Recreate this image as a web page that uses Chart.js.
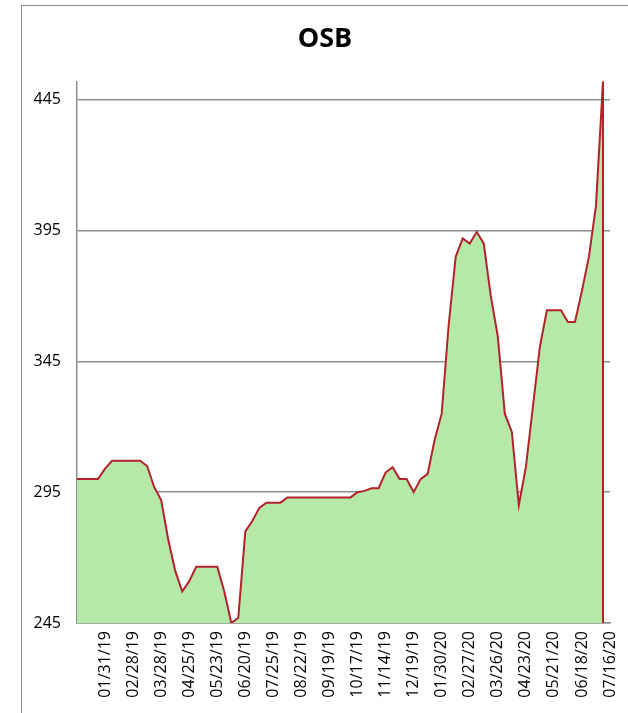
<!DOCTYPE html>
<html>
<head>
<meta charset="utf-8">
<title>OSB</title>
<script src="https://cdn.jsdelivr.net/npm/chart.js@4.4.1/dist/chart.umd.min.js"></script>
<style>
    html, body { margin: 0; padding: 0; background: #fff; overflow: hidden; }
    #frame {
        position: absolute;
        left: 21px;
        top: 5px;
        width: 606px;
        height: 712px;
        border: 1px solid #8c8c8c;
    }
</style>
</head>
<body>
<div id="frame"><canvas id="osbChart"></canvas></div>
<script>
// weekly dates (some holiday weeks are missing in the source)
const dates = [
    "01/03/19", "01/10/19", "01/17/19", "01/24/19", "01/31/19", "02/07/19", "02/14/19", "02/21/19",
    "02/28/19", "03/07/19", "03/14/19", "03/21/19", "03/28/19", "04/04/19", "04/11/19", "04/18/19",
    "04/25/19", "05/02/19", "05/09/19", "05/16/19", "05/23/19", "05/30/19", "06/06/19", "06/13/19",
    "06/20/19", "06/27/19", "07/11/19", "07/18/19", "07/25/19", "08/01/19", "08/08/19", "08/15/19",
    "08/22/19", "08/29/19", "09/05/19", "09/12/19", "09/19/19", "09/26/19", "10/03/19", "10/10/19",
    "10/17/19", "10/24/19", "10/31/19", "11/07/19", "11/14/19", "11/21/19", "12/05/19", "12/12/19",
    "12/19/19", "01/09/20", "01/16/20", "01/23/20", "01/30/20", "02/06/20", "02/13/20", "02/20/20",
    "02/27/20", "03/05/20", "03/12/20", "03/19/20", "03/26/20", "04/02/20", "04/09/20", "04/16/20",
    "04/23/20", "04/30/20", "05/07/20", "05/14/20", "05/21/20", "05/28/20", "06/04/20", "06/11/20",
    "06/18/20", "06/25/20", "07/02/20", "07/09/20", "07/16/20"
];

const osbPrices = [
    300, 300, 300, 300, 304, 307, 307, 307,
    307, 307, 305, 297, 292, 277, 265, 257,
    261, 266.5, 266.5, 266.5, 266.5, 257, 245, 247,
    280, 284, 289, 291, 291, 291, 293, 293,
    293, 293, 293, 293, 293, 293, 293, 293,
    295, 295.5, 296.5, 296.5, 302.5, 304.5, 300, 300,
    295, 300, 302, 315, 325, 359, 385, 392,
    390, 394.5, 390, 370, 354.5, 325, 318, 290,
    304.5, 327.5, 350.5, 364.5, 364.5, 364.5, 360, 360,
    372, 385, 404.5, 452, null
];

const yTicks = [245, 295, 345, 395, 445];
const labelEvery = 4;

const gridGray = '#8e8e8e';
const lineRed = '#b3222b';
const areaGreen = '#b6e9a9';
const fontFamily = "'Open Sans', 'Liberation Sans', sans-serif";

// Excel closes the area with a vertical edge where the data stops
const closeAreaEdge = {
    id: 'closeAreaEdge',
    afterDatasetsDraw(chart) {
        const data = chart.data.datasets[0].data;
        let last = data.length - 1;
        while (last > 0 && data[last] == null) last--;
        const pt = chart.getDatasetMeta(0).data[last];
        const ctx = chart.ctx;
        const area = chart.chartArea;
        ctx.save();
        ctx.strokeStyle = lineRed;
        ctx.lineWidth = 2;
        ctx.beginPath();
        ctx.moveTo(pt.x, Math.max(pt.y, area.top));
        ctx.lineTo(pt.x, area.bottom);
        ctx.stroke();
        ctx.restore();
    }
};

const ctx = document.getElementById('osbChart').getContext('2d');

new Chart(ctx, {
    type: 'line',
    data: {
        labels: dates,
        datasets: [{
            label: 'OSB',
            data: osbPrices,
            borderColor: lineRed,
            borderWidth: 2,
            backgroundColor: areaGreen,
            fill: 'start',
            tension: 0,
            pointRadius: 0,
            spanGaps: false
        }]
    },
    options: {
        responsive: true,
        maintainAspectRatio: false,
        animation: false,
        layout: { padding: 0 },
        plugins: {
            legend: { display: false },
            tooltip: { enabled: false },
            title: {
                display: true,
                text: 'OSB',
                color: '#000',
                font: { family: fontFamily, size: 27, weight: 'bold' },
                padding: { top: 17, bottom: 26 }
            }
        },
        scales: {
            x: {
                grid: { display: false, drawTicks: false },
                border: { display: true, color: gridGray, width: 1.5 },
                ticks: {
                    autoSkip: false,
                    minRotation: 90,
                    maxRotation: 90,
                    padding: 8,
                    color: '#000',
                    font: { family: fontFamily, size: 16 },
                    callback: function (value, index) {
                        if (index === 0 || index % labelEvery !== 0) return '';
                        return this.getLabelForValue(value);
                    }
                },
                afterFit: function (scale) {
                    scale.height = 95;
                    scale.paddingLeft = 0;
                    scale.paddingRight = 0;
                }
            },
            y: {
                min: 245,
                max: 452,
                grid: { color: gridGray, lineWidth: 1.5, drawTicks: false },
                border: { display: true, color: gridGray, width: 1.5 },
                ticks: {
                    padding: 16,
                    color: '#000',
                    font: { family: fontFamily, size: 16 }
                },
                afterBuildTicks: function (axis) {
                    axis.ticks = yTicks.map(v => ({ value: v }));
                },
                afterFit: function (scale) { scale.width = 55; }
            },
            // empty right margin so the title stays centred on the whole frame
            margin: {
                position: 'right',
                min: 245,
                max: 452,
                grid: { display: false, drawTicks: false },
                border: { display: false },
                ticks: { display: false },
                afterFit: function (scale) { scale.width = 18; }
            }
        }
    },
    plugins: [closeAreaEdge]
});
</script>
</body>
</html>
